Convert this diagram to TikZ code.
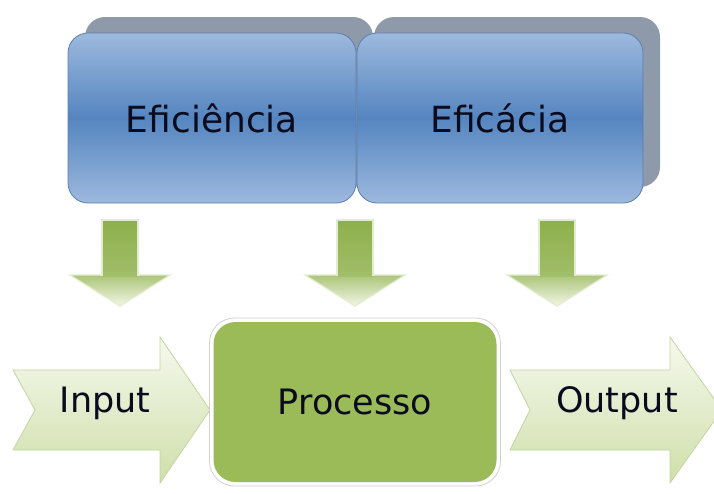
\documentclass[tikz,border=0pt]{standalone}
\usepackage{fontspec}
\setmainfont{DejaVu Sans}
\definecolor{bluelight}{HTML}{9DB9DD}
\definecolor{bluemid}{HTML}{5585C0}
\definecolor{blueedge}{HTML}{5E7FAE}
\definecolor{shadowgray}{HTML}{8E9AAA}
\definecolor{textdark}{HTML}{0B0B1E}
\definecolor{procgreen}{HTML}{9BBB59}
\definecolor{arrowgreen}{HTML}{8DB04A}
\definecolor{arrowpale}{HTML}{F2F6E6}
\definecolor{flowtop}{HTML}{F6F9EE}
\definecolor{flowbot}{HTML}{CFDFAA}
\definecolor{flowedge}{HTML}{C4D4A0}
\tikzset{
  bluebox/.style={draw=blueedge, line width=0.8pt, rounded corners=20pt,
    top color=bluelight, bottom color=bluelight, middle color=bluemid,
    minimum height=170pt, inner sep=0pt, text=textdark,
    font=\fontsize{36}{42}\selectfont},
  shadowbox/.style={fill=shadowgray, rounded corners=20pt},
  arrowhead/.style={top color=arrowgreen!70!arrowpale, bottom color=arrowpale,
    draw=arrowpale!85!arrowgreen, line width=1.2pt},
  arrowshaft/.style={top color=arrowgreen, bottom color=arrowgreen!80!arrowpale},
  arrowedge/.style={draw=arrowpale!85!arrowgreen, line width=1.2pt},
  flowarrow/.style={top color=flowtop, bottom color=flowbot, draw=flowedge, line width=0.8pt},
  flowtext/.style={text=textdark, font=\fontsize{35}{40}\selectfont, inner sep=0pt},
  procglow/.style={fill=white, draw=black!18, line width=0.8pt, rounded corners=25pt,
    minimum width=291pt, minimum height=168pt},
  procbox/.style={fill=procgreen, rounded corners=22pt, minimum width=283pt,
    minimum height=160pt, text=textdark, font=\fontsize{35}{40}\selectfont}
}
\begin{document}
\begin{tikzpicture}[x=1pt,y=-1pt]
\useasboundingbox (0,0) rectangle (714,493);
% shadows of the top boxes
\fill[shadowbox] (85,17) rectangle (373,187);
\fill[shadowbox] (374,17) rectangle (660,187);
% top boxes
\node[bluebox, minimum width=288pt] (efi) at (212,118) {Efici\^encia};
\node[bluebox, minimum width=286pt] (efa) at (500,118) {Efic\'acia};
% down arrows
\foreach \cx in {120, 355, 557}{
  \shade[arrowhead] (\cx-50,275) -- (\cx+50,275) -- (\cx,306) -- cycle;
  \shade[arrowshaft] (\cx-18,220) rectangle (\cx+18,276);
  \draw[arrowedge] (\cx-18,275.6) -- (\cx-18,220) -- (\cx+18,220) -- (\cx+18,275.6);
}
% flow arrows
\shade[flowarrow] (13,370) -- (160,370) -- (160,337) -- (210,410) -- (160,483)
   -- (160,450) -- (13,450) -- (35,410) -- cycle;
\shade[flowarrow] (510,370) -- (670,370) -- (670,337) -- (722,410) -- (670,483)
   -- (670,450) -- (510,450) -- (530,410) -- cycle;
\node[flowtext] (in) at (105,403) {Input};
\node[flowtext] (out) at (617,403) {Output};
% process box
\node[procglow] (glow) at (355,402) {};
\node[procbox] (proc) at (355,402) {Processo};
\end{tikzpicture}
\end{document}
